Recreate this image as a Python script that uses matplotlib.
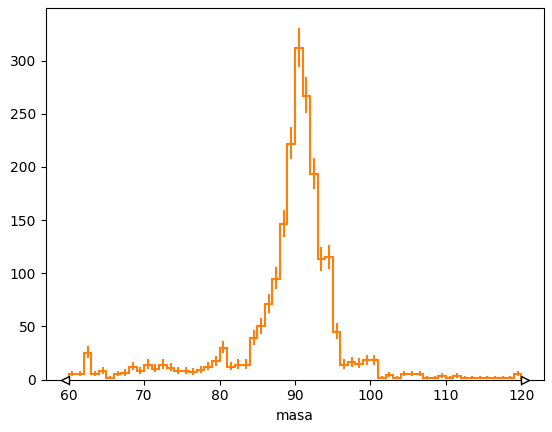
import numpy as np
import matplotlib
matplotlib.use("Agg")
import matplotlib.pyplot as plt
from matplotlib.path import Path

# histograma de masa (bins de 1 GeV, 60-120)
bin_edges = np.arange(60, 121, 1)
counts = [5, 5, 25, 5, 8, 1, 5, 6, 12, 8,
          14, 10, 14, 11, 8, 8, 7, 9, 12, 17,
          30, 12, 14, 14, 39, 50, 71, 95, 146, 222,
          312, 267, 193, 113, 115, 45, 14, 16, 15, 18,
          18, 1, 4, 1, 5, 5, 5, 1, 1, 3,
          1, 3, 1, 1, 1, 1, 1, 1, 1, 5]
xticks = [60, 70, 80, 90, 100, 110, 120]
yticks = [0, 50, 100, 150, 200, 250, 300]

counts = np.array(counts, dtype=float)
centers = 0.5 * (bin_edges[:-1] + bin_edges[1:])

# errores de Poisson (aprox. Wilson-Hilferty, 1 sigma)
n = counts
lo = np.where(n > 0, n * (1 - 1 / (9 * np.maximum(n, 1)) - 1 / (3 * np.sqrt(np.maximum(n, 1)))) ** 3, 0)
n1 = n + 1
hi = n1 * (1 - 1 / (9 * n1) + 1 / (3 * np.sqrt(n1))) ** 3
yerr = np.vstack([n - lo, hi - n])
yerr[:, n == 0] = 0

fig = plt.figure(figsize=(5.52, 4.32), dpi=100)
ax = fig.add_axes([46 / 552, 1 - 379.5 / 432, 498 / 552, 371.5 / 432])

ax.stairs(counts, bin_edges, color="C1", lw=1.5)
ax.errorbar(centers, counts, yerr=yerr, fmt="none", ecolor="C1", elinewidth=1.5)

# marcadores de underflow / overflow
left_tri = Path([(0, -0.5), (0, 0.5), (-1, 0), (0, -0.5)],
                [Path.MOVETO, Path.LINETO, Path.LINETO, Path.CLOSEPOLY])
right_tri = Path([(0, -0.5), (0, 0.5), (1, 0), (0, -0.5)],
                 [Path.MOVETO, Path.LINETO, Path.LINETO, Path.CLOSEPOLY])
ax.plot(bin_edges[0], 0, marker=left_tri, ms=11.5, mfc="white", mec="black",
        mew=1, clip_on=False, zorder=5)
ax.plot(bin_edges[-1], 0, marker=right_tri, ms=11.5, mfc="white", mec="black",
        mew=1, clip_on=False, zorder=5)

ax.set_xlim(57, 123)
ax.set_ylim(0, 349.5)
ax.set_xticks(xticks)
ax.set_yticks(yticks)
ax.set_xlabel("masa")

fig.savefig("out.png", dpi=100)
